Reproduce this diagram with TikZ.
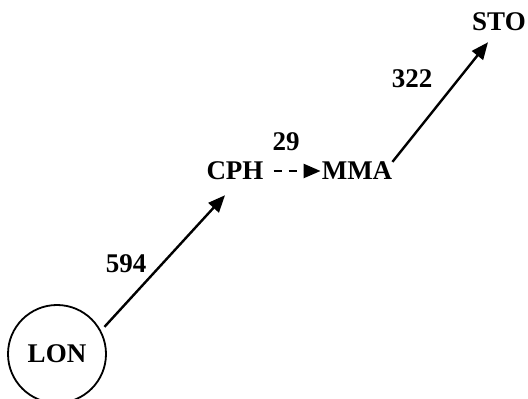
\documentclass[tikz,border=0pt]{standalone}
\usepackage{fontspec}
\setmainfont{Liberation Serif}
\usetikzlibrary{arrows.meta,calc}
\tikzset{
  lbl/.style={inner sep=0pt, font=\fontsize{27}{31}\selectfont\bfseries},
  city/.style={lbl},
  citycircle/.style={lbl, draw, circle, line width=1.8pt, minimum size=98pt},
  arr/.style={line width=2.4pt, -{Triangle[length=17pt,width=14pt]}},
  darr/.style={line width=2.4pt, dash pattern=on 8pt off 7pt, -{Triangle[length=17pt,width=14pt]}}
}
\begin{document}
\begin{tikzpicture}[x=1pt,y=1pt]
\useasboundingbox (0,0) rectangle (528,399);
\node[citycircle] (LON) at (57,45) {LON};
\node[city] (CPH) at (235,228) {CPH};
\node[city] (MMA) at (357,228) {MMA};
\node[city] (STO) at (499,377) {STO};
\node[lbl] (l594) at (126,135) {594};
\node[lbl] (l29) at (286,257) {29};
\node[lbl] (l322) at (412,320) {322};
\draw[arr, shorten <=5pt] (LON.28) -- ([shift={(-10pt,-15pt)}]CPH.south);
\draw[darr, shorten <=10pt, shorten >=1pt] (CPH.east) -- (MMA.west);
\draw[arr] (MMA.north east) -- ([shift={(-11pt,-11pt)}]STO.south);
\end{tikzpicture}
\end{document}
